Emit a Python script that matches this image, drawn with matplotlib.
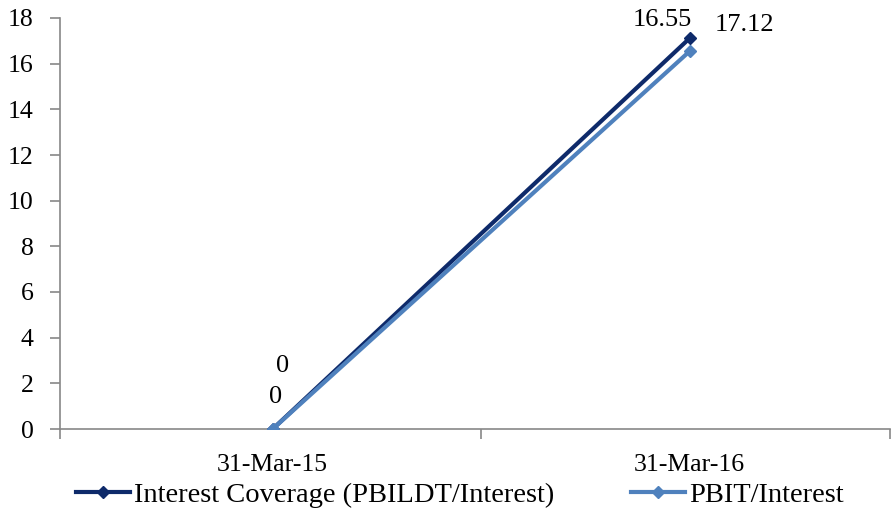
import matplotlib
matplotlib.use("Agg")
import matplotlib.pyplot as plt

categories = ["31-Mar-15", "31-Mar-16"]
coverage = [0, 17.12]
pbit = [0, 16.55]
series_names = ["Interest Coverage (PBILDT/Interest)", "PBIT/Interest"]
yticks = [0, 2, 4, 6, 8, 10, 12, 14, 16, 18]

plt.rcParams['font.family'] = ['Liberation Serif', 'DejaVu Serif']
FS = 18.5

fig = plt.figure(figsize=(8.91, 5.14), dpi=100)
ax = fig.add_axes([60/891, 1-429/514, 830/891, (429-18)/514])

dark = '#0E2A6A'
light = '#4F81BD'
x = list(range(len(categories)))
l1, = ax.plot(x, coverage, color=dark, lw=3, marker='D', ms=6, zorder=3, label=series_names[0])
l2, = ax.plot(x, pbit, color=light, lw=3, marker='D', ms=6, zorder=4, label=series_names[1])

ax.set_xlim(-0.51, 1.48)
ax.set_ylim(0, 18)
ax.set_yticks(yticks)
ax.set_yticklabels([str(v) for v in yticks], fontsize=FS)
ax.set_xticks(x)
ax.set_xticklabels(categories, fontsize=FS)
ax.set_xticks([-0.51, 0.5, 1.48], minor=True)
ax.tick_params(axis='x', which='major', length=0, pad=18)
ax.tick_params(axis='x', which='minor', length=7, color='#888888', width=1.2)
ax.tick_params(axis='y', length=7, color='#888888', width=1.2, pad=12)
for s in ['top', 'right']:
    ax.spines[s].set_visible(False)
for s in ['left', 'bottom']:
    ax.spines[s].set_color('#888888')
    ax.spines[s].set_linewidth(1.2)

# data labels (pixel offsets)
cov_off = [(10, 63), (55, 13)]
pbit_off = [(3, 32), (-28, 31)]
for i, v in enumerate(coverage):
    ax.annotate(f"{v:g}", (x[i], v), xytext=cov_off[i], textcoords='offset pixels',
                ha='center', va='center', fontsize=FS+0.5)
for i, v in enumerate(pbit):
    ax.annotate(f"{v:g}", (x[i], v), xytext=pbit_off[i], textcoords='offset pixels',
                ha='center', va='center', fontsize=FS+0.5)

fig.legend(handles=[l1, l2], loc='center', bbox_to_anchor=(0.516, 1-495/514), ncol=2,
           frameon=False, fontsize=FS+2, columnspacing=2.7, handlelength=1.9, handletextpad=0.15)

fig.savefig("out.png", dpi=100)
